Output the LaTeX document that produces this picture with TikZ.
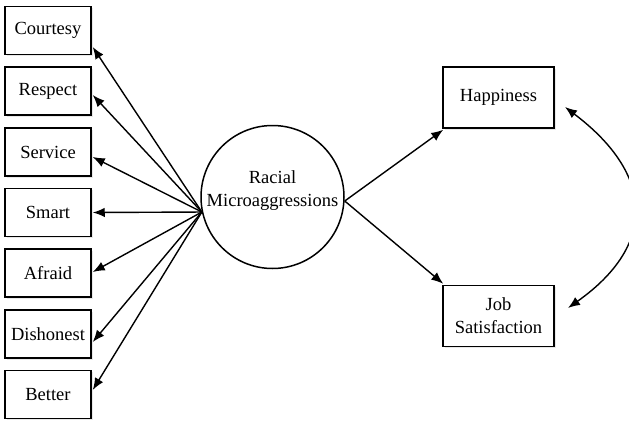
\documentclass[tikz,border=0pt]{standalone}
\usepackage{fontspec}
\setmainfont{Liberation Serif}
\usetikzlibrary{arrows.meta,shadows}
\begin{document}
\begin{tikzpicture}[x=1pt,y=1pt,
  every node/.style={font=\fontsize{18.5}{23}\selectfont},
  lbox/.style={draw=black,line width=1.5pt,fill=white,minimum width=86pt,minimum height=48pt,inner sep=0pt,
    drop shadow={opacity=0.18,shadow xshift=1.5pt,shadow yshift=-1.5pt}},
  rbox/.style={draw=black,line width=1.5pt,fill=white,minimum width=111pt,minimum height=61pt,inner sep=0pt,align=center,
    drop shadow={opacity=0.18,shadow xshift=1.5pt,shadow yshift=-1.5pt}},
  conn/.style={line width=1.4pt,-{Latex[length=12pt,width=9.5pt]}},
  dconn/.style={line width=1.4pt,{Latex[length=12pt,width=9.5pt]}-{Latex[length=12pt,width=9.5pt]}}
]
\useasboundingbox (0,0) rectangle (629,-423);
\node[lbox] (courtesy) at (48,-30.5) {Courtesy};
\node[lbox] (respect) at (48,-91) {Respect};
\node[lbox] (service) at (48,-152) {Service};
\node[lbox] (smart) at (48,-212.5) {Smart};
\node[lbox] (afraid) at (48,-273) {Afraid};
\node[lbox] (dishonest) at (48,-334) {Dishonest};
\node[lbox] (better) at (48,-394.5) {Better};
\node[draw=black,line width=1.5pt,circle,minimum size=143pt,inner sep=0pt] (rm) at (272.5,-197) {};
\node[align=center] (rmtext) at (272.5,-191) {Racial\\Microaggressions};
\node[rbox] (happy) at (498.5,-97.5) {Happiness};
\node[rbox] (job) at (498.5,-316) {Job\\Satisfaction};
\coordinate (hub) at (rm.192);
\coordinate (rout) at ([yshift=-4pt]rm.east);
\draw[conn] (hub) -- ([yshift=-16.5pt,xshift=1pt]courtesy.east);
\draw[conn] (hub) -- ([yshift=-4pt,xshift=1pt]respect.east);
\draw[conn] (hub) -- ([yshift=-5pt,xshift=1pt]service.east);
\draw[conn] (hub) -- ([xshift=1pt]smart.east);
\draw[conn] (hub) -- ([yshift=1pt,xshift=1pt]afraid.east);
\draw[conn] (hub) -- ([yshift=-8pt,xshift=1pt]dishonest.east);
\draw[conn] (hub) -- ([yshift=4.5pt,xshift=1pt]better.east);
\draw[conn] (rout) -- ([xshift=1pt,yshift=-1pt]happy.south west);
\draw[conn] (rout) -- ([xshift=1pt,yshift=1pt]job.north west);
\coordinate (ctop) at (565,-107);
\coordinate (cbot) at (568,-308);
\draw[dconn] (ctop) .. controls (655,-175) and (657,-245) .. (cbot);
\end{tikzpicture}
\end{document}
